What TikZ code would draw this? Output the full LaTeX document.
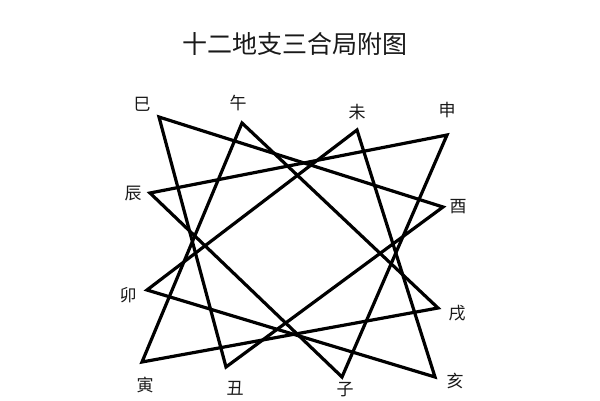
\documentclass[tikz,border=0pt]{standalone}
\usepackage{fontspec}
\newfontfamily\cjk{Noto Sans CJK SC}
\begin{document}
\begin{tikzpicture}[x=1pt,y=-1pt,
  lbl/.style={font=\cjk\fontsize{17}{17}\selectfont, inner sep=0pt, text=black!90},
  ttl/.style={font=\cjk\fontsize{25}{25}\selectfont, inner sep=0pt, text=black!90},
  tri/.style={line width=3.2pt, line join=miter, line cap=round}]
\useasboundingbox[fill=white] (0,0) rectangle (600,400);
\node[ttl] (title) at (295,44) {十二地支三合局附图};
% vertices
\coordinate (vsi) at (159,117);
\coordinate (vwu) at (242,123);
\coordinate (vwei) at (357,130);
\coordinate (vshen) at (447,135);
\coordinate (vchen) at (150,193);
\coordinate (vyou) at (443,207);
\coordinate (vmao) at (147,290);
\coordinate (vxu) at (438,308);
\coordinate (vyin) at (142,362);
\coordinate (vchou) at (226,367);
\coordinate (vzi) at (342,377);
\coordinate (vhai) at (435,377);
% labels
\node[lbl] (si) at (142,104) {巳};
\node[lbl] (wu) at (238,103) {午};
\node[lbl] (wei) at (357,112) {未};
\node[lbl] (shen) at (447,110) {申};
\node[lbl] (chen) at (133,194) {辰};
\node[lbl] (you) at (458,207) {酉};
\node[lbl] (mao) at (128,295) {卯};
\node[lbl] (xu) at (457,313) {戌};
\node[lbl] (yin) at (145,385) {寅};
\node[lbl] (chou) at (235,388) {丑};
\node[lbl] (zi) at (345,390) {子};
\node[lbl] (hai) at (455,381) {亥};
% triangles
\draw[tri] (vshen) -- (vzi) -- (vchen) -- cycle;
\draw[tri] (vhai) -- (vmao) -- (vwei) -- cycle;
\draw[tri] (vyin) -- (vwu) -- (vxu) -- cycle;
\draw[tri] (vsi) -- (vyou) -- (vchou) -- cycle;
\end{tikzpicture}
\end{document}
